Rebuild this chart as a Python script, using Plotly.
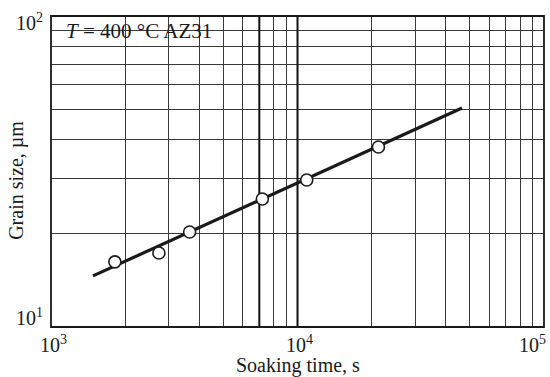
import math
import plotly.graph_objects as go

# ---- data ----
time_s = [1816, 2740, 3650, 7200, 10900, 21300]
grain_um = [16.2, 17.3, 20.2, 25.8, 29.7, 37.9]
fit_time = [1480, 46500]
fit_grain = [14.6, 50.6]

x_grid = [2000, 3000, 4000, 5000, 6000, 7000, 8000, 9000, 10000,
          20000, 30000, 40000, 50000, 60000, 70000, 80000, 90000]
y_grid = [20, 30, 40, 50, 60, 70, 80, 90]
bold_x = [7000, 10000]
x_range = [1000, 100000]
y_range = [10, 100]
x_tick_vals = [1000, 10000, 100000]
x_tick_text = ["10<sup>3</sup>", "10<sup>4</sup>", "10<sup>5</sup>"]
y_tick_vals = [10, 100]
y_tick_text = ["10<sup>1</sup>", "10<sup>2</sup>"]
box_x = [1000, 5000]
box_y = [80, 100]
label_text = "<i>T</i> = 400 °C AZ31"

FONT = "Liberation Serif"
GRID = "#3a3a3a"

fig = go.Figure()

# thick grid lines
for bx in bold_x:
    fig.add_trace(go.Scatter(x=[bx, bx], y=y_range, mode="lines",
                             line=dict(color="#111111", width=2),
                             hoverinfo="skip", showlegend=False))

fig.add_trace(go.Scatter(x=fit_time, y=fit_grain, mode="lines",
                         line=dict(color="#1a1a1a", width=3.2),
                         showlegend=False))
fig.add_trace(go.Scatter(x=time_s, y=grain_um, mode="markers",
                         marker=dict(symbol="circle", size=12, color="white",
                                     line=dict(color="#1a1a1a", width=1.6)),
                         showlegend=False))

axis_common = dict(type="log", showticklabels=False, ticks="",
                   showgrid=True, gridcolor=GRID, gridwidth=1,
                   zeroline=False, showline=False)
fig.update_xaxes(range=[math.log10(x_range[0]), math.log10(x_range[1])],
                 tickvals=x_grid, **axis_common)
fig.update_yaxes(range=[math.log10(y_range[0]), math.log10(y_range[1])],
                 tickvals=y_grid, **axis_common)

shapes = [
    dict(type="rect", xref="x", yref="y", layer="above",
         x0=math.log10(box_x[0]), x1=math.log10(box_x[1]),
         y0=math.log10(box_y[0]), y1=math.log10(box_y[1]),
         fillcolor="white", line=dict(color=GRID, width=1)),
    dict(type="rect", xref="paper", yref="paper", layer="above",
         x0=0, x1=1, y0=0, y1=1,
         line=dict(color="#1a1a1a", width=1.8), fillcolor="rgba(0,0,0,0)"),
]

annotations = []
for v, t in zip(x_tick_vals, x_tick_text):
    anchor = "center"
    if v == x_tick_vals[-1]:
        anchor = "right"
    annotations.append(dict(x=math.log10(v), y=0, xref="x", yref="paper",
                            text=t, showarrow=False, xanchor=anchor,
                            yanchor="top", yshift=-3,
                            xshift=(4 if anchor == "right" else 2),
                            font=dict(family=FONT, size=20, color="#1a1a1a")))
for v, t in zip(y_tick_vals, y_tick_text):
    annotations.append(dict(x=0, y=math.log10(v), xref="paper", yref="y",
                            text=t, showarrow=False, xanchor="right",
                            yanchor=("bottom" if v == y_tick_vals[0] else "top"),
                            xshift=-6, yshift=(-4 if v == y_tick_vals[0] else 8),
                            font=dict(family=FONT, size=20, color="#1a1a1a")))
annotations.append(dict(x=0.5, y=0, xref="paper", yref="paper",
                        text="Soaking time, s", showarrow=False,
                        xanchor="center", yanchor="top", yshift=-25,
                        font=dict(family=FONT, size=20, color="#1a1a1a")))
annotations.append(dict(x=0, y=0.47, xref="paper", yref="paper",
                        text="Grain size, µm", showarrow=False, textangle=-90,
                        xanchor="center", yanchor="middle", xshift=-34,
                        font=dict(family=FONT, size=20, color="#1a1a1a")))
annotations.append(dict(x=(math.log10(box_x[0]) + math.log10(box_x[1])) / 2,
                        y=(math.log10(box_y[0]) + math.log10(box_y[1])) / 2,
                        xref="x", yref="y", text=label_text, showarrow=False,
                        xanchor="center", yanchor="middle", xshift=2,
                        font=dict(family=FONT, size=21, color="#1a1a1a")))

fig.update_layout(width=550, height=377,
                  margin=dict(l=51, r=6, t=16, b=50),
                  paper_bgcolor="white", plot_bgcolor="white",
                  shapes=shapes, annotations=annotations)

fig.write_html("out.html", config={"displayModeBar": False},
               post_script="document.body.style.margin='0';document.body.style.padding='0';")
